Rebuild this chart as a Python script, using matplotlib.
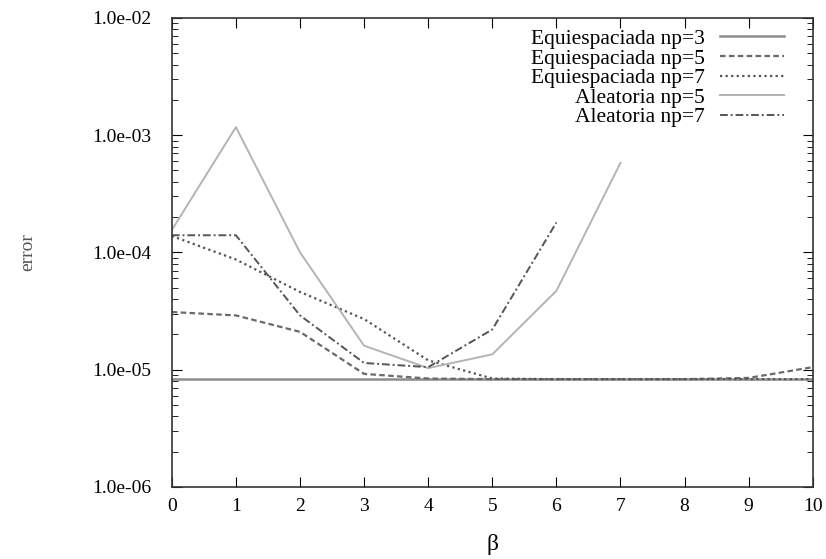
import matplotlib
matplotlib.use("Agg")
import matplotlib.pyplot as plt
from matplotlib.ticker import FixedLocator, LogLocator, NullFormatter

plt.rcParams["font.family"] = ["Liberation Serif", "DejaVu Serif"]

beta = [0, 1, 2, 3, 4, 5, 6, 7, 8, 9, 10]
equi_np3 = [8.3e-6] * 11
equi_np5 = [3.1e-5, 2.9e-5, 2.1e-5, 9.2e-6, 8.4e-6, 8.3e-6, 8.3e-6, 8.3e-6, 8.3e-6, 8.5e-6, 1.05e-5]
equi_np7 = [1.38e-4, 8.7e-5, 4.6e-5, 2.7e-5, 1.2e-5, 8.4e-6, 8.3e-6, 8.3e-6, 8.3e-6, 8.3e-6, 8.3e-6]
beta_al5 = [0, 1, 2, 3, 4, 5, 6, 7]
alea_np5 = [1.55e-4, 1.17e-3, 1.0e-4, 1.6e-5, 1.03e-5, 1.35e-5, 4.7e-5, 5.8e-4]
beta_al7 = [0, 1, 2, 3, 4, 5, 6]
alea_np7 = [1.4e-4, 1.4e-4, 2.9e-5, 1.14e-5, 1.05e-5, 2.2e-5, 1.8e-4]

labels = ["Equiespaciada np=3", "Equiespaciada np=5", "Equiespaciada np=7",
          "Aleatoria np=5", "Aleatoria np=7"]

fig = plt.figure(figsize=(8.26, 5.59), dpi=100)
ax = fig.add_axes([0.208, 0.129, 0.776, 0.839])

ax.plot(beta, equi_np3, color="#8c8c8c", lw=1.8, ls="-", label=labels[0])
ax.plot(beta, equi_np5, color="#6a6a6a", lw=1.6, ls=(0, (2.5, 1.5)), label=labels[1])
ax.plot(beta, equi_np7, color="#555555", lw=1.6, ls=(0, (1, 1.5)), label=labels[2])
ax.plot(beta_al5, alea_np5, color="#b4b4b4", lw=1.4, ls="-", label=labels[3])
ax.plot(beta_al7, alea_np7, color="#555555", lw=1.4, ls=(0, (4, 1.5, 1, 1.5)), label=labels[4])

ax.set_yscale("log")
ax.set_xlim(0, 10)
ax.set_ylim(1e-6, 1e-2)
ax.xaxis.set_major_locator(FixedLocator(beta))
ax.set_yticks([1e-6, 1e-5, 1e-4, 1e-3, 1e-2])
ax.set_yticklabels(["1.0e-06", "1.0e-05", "1.0e-04", "1.0e-03", "1.0e-02"])
ax.yaxis.set_minor_locator(LogLocator(base=10, subs=range(2, 10)))
ax.yaxis.set_minor_formatter(NullFormatter())
ax.tick_params(which="both", direction="in", top=True, right=True, labelsize=14)
ax.tick_params(which="major", length=7)
ax.tick_params(which="minor", length=4)
ax.tick_params(axis="y", pad=15)
ax.tick_params(axis="x", pad=8)
for s in ax.spines.values():
    s.set_color("#333333")
    s.set_linewidth(1.2)

ax.set_xlabel("β", fontsize=17, labelpad=14)
ax.set_ylabel("error", fontsize=14, color="#555555", labelpad=40)

leg = ax.legend(loc="upper right", frameon=False, markerfirst=False, fontsize=15.5,
                handlelength=3.0, labelspacing=-0.02, borderaxespad=0.0,
                handletextpad=0.7, bbox_to_anchor=(0.969, 0.995))
for t in leg.get_texts():
    t.set_ha("right")
leg._legend_box.align = "right"

fig.savefig("out.png", dpi=100)
